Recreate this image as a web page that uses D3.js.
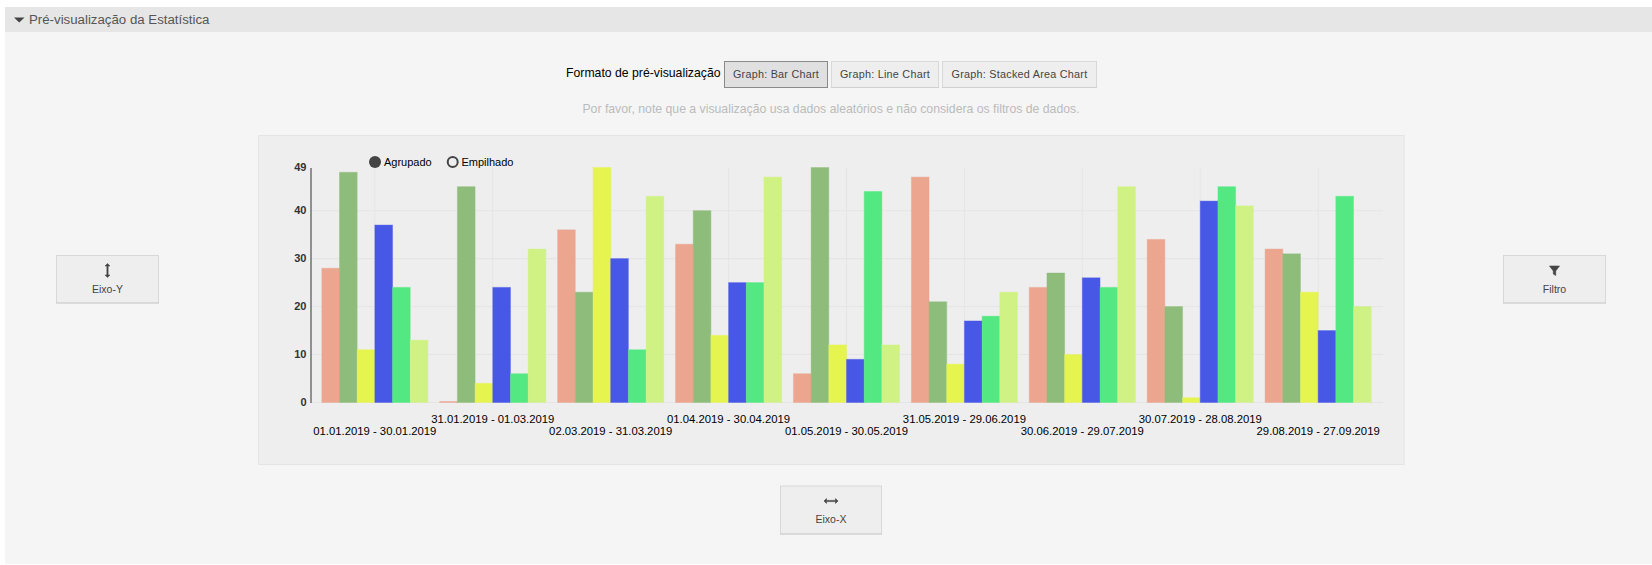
<!DOCTYPE html>
<html>
<head>
<meta charset="utf-8">
<script src="https://cdn.jsdelivr.net/npm/d3@7/dist/d3.min.js"></script>
<style>
  html, body { margin: 0; padding: 0; background: #fff; overflow: hidden; }
  svg { display: block; font-family: "Liberation Sans", Arial, sans-serif; }
  .y-axis text { font-size: 11px; font-weight: bold; fill: #333; }
  .x-axis text { font-size: 11.3px; fill: #000; }
</style>
</head>
<body>
<div id="chart"></div>
<script>
// periods on the x axis
const periods = [
  "01.01.2019 - 30.01.2019", "31.01.2019 - 01.03.2019", "02.03.2019 - 31.03.2019",
  "01.04.2019 - 30.04.2019", "01.05.2019 - 30.05.2019", "31.05.2019 - 29.06.2019",
  "30.06.2019 - 29.07.2019", "30.07.2019 - 28.08.2019", "29.08.2019 - 27.09.2019"
];

// one list per bar colour
const seriesA = [28, 0, 36, 33, 6, 47, 24, 34, 32];
const seriesB = [48, 45, 23, 40, 49, 21, 27, 20, 31];
const seriesC = [11, 4, 49, 14, 12, 8, 10, 1, 23];
const seriesD = [37, 24, 30, 25, 9, 17, 26, 42, 15];
const seriesE = [24, 6, 11, 25, 44, 18, 24, 45, 43];
const seriesF = [13, 32, 43, 47, 12, 23, 45, 41, 20];
const allSeries = [seriesA, seriesB, seriesC, seriesD, seriesE, seriesF];
const seriesColors = ["#eca68f", "#8ebc7b", "#e5f44f", "#4858e6", "#54e882", "#d0f284"];

const yTicks = [0, 10, 20, 30, 40, 49];
const formatButtons = ["Graph: Bar Chart", "Graph: Line Chart", "Graph: Stacked Area Chart"];

const width = 1652;
const height = 565;

const svg = d3.select("#chart").append("svg")
  .attr("width", width)
  .attr("height", height);

// page panel and header
svg.append("rect").attr("x", 5).attr("y", 7).attr("width", width - 5).attr("height", 557).attr("fill", "#f5f5f5");
svg.append("rect").attr("x", 5).attr("y", 7).attr("width", width - 5).attr("height", 25).attr("fill", "#e6e6e6");
svg.append("path").attr("d", "M14,17.5L24.5,17.5L19.2,22.5Z").attr("fill", "#444");
svg.append("text").attr("x", 29).attr("y", 23.5)
  .attr("font-size", 13.25).attr("fill", "#555")
  .text("Pré-visualização da Estatística");

// format row
svg.append("text").attr("x", 566).attr("y", 77)
  .attr("font-size", 12.25).attr("fill", "#000")
  .text("Formato de pré-visualização");

function button(x, y, w, h, active) {
  const g = svg.append("g");
  g.append("rect")
    .attr("x", x + 0.5).attr("y", y + 0.5)
    .attr("width", w - 1).attr("height", h - 1)
    .attr("fill", active ? "#e0e0e0" : "#eeeeee")
    .attr("stroke", active ? "#8a8a8a" : "#d8d8d8");
  g.append("line")
    .attr("x1", x).attr("x2", x + w)
    .attr("y1", y + h - 0.5).attr("y2", y + h - 0.5)
    .attr("stroke", active ? "#8a8a8a" : "#cfcfcf");
  return g;
}

const formatX = [[724, 104], [831, 108], [942, 155]];
formatButtons.forEach((label, i) => {
  const g = button(formatX[i][0], 61, formatX[i][1], 27, i === 0);
  g.append("text")
    .attr("x", formatX[i][0] + formatX[i][1] / 2).attr("y", 77.5)
    .attr("text-anchor", "middle")
    .attr("font-size", 10.8).attr("letter-spacing", 0.25).attr("fill", "#444")
    .text(label);
});

svg.append("text").attr("x", 831).attr("y", 112.5)
  .attr("text-anchor", "middle")
  .attr("font-size", 12.25).attr("fill", "#bbb")
  .text("Por favor, note que a visualização usa dados aleatórios e não considera os filtros de dados.");

// chart panel
svg.append("rect")
  .attr("x", 258.5).attr("y", 135.5)
  .attr("width", 1145.5).attr("height", 329)
  .attr("fill", "#eeeeee").attr("stroke", "#e4e4e4");

// scales
const x0 = d3.scaleBand()
  .domain(periods)
  .range([310, 1383])
  .paddingInner(0.1)
  .paddingOuter(0.1);

const x1 = d3.scaleBand()
  .domain(d3.range(allSeries.length))
  .range([0, x0.bandwidth()]);

const y = d3.scaleLinear()
  .domain([0, 49])
  .range([402.5, 167.5]);

// grid
svg.append("g").selectAll("line")
  .data(periods)
  .join("line")
    .attr("x1", d => x0(d) + x0.bandwidth() / 2)
    .attr("x2", d => x0(d) + x0.bandwidth() / 2)
    .attr("y1", y(49)).attr("y2", y(0))
    .attr("stroke", "#e5e5e5");

svg.append("g").selectAll("line")
  .data(yTicks.filter(d => d < 49))
  .join("line")
    .attr("x1", 310).attr("x2", 1383)
    .attr("y1", d => y(d)).attr("y2", d => y(d))
    .attr("stroke", "#e5e5e5");

// bars
allSeries.forEach((values, s) => {
  svg.append("g")
    .selectAll("rect")
    .data(values)
    .join("rect")
      .attr("x", (d, i) => x0(periods[i]) + x1(s))
      .attr("width", x1.bandwidth())
      .attr("y", d => y(0) - Math.max(y(0) - y(d), 1))
      .attr("height", d => Math.max(y(0) - y(d), 1))
      .attr("fill", seriesColors[s])
      .attr("stroke", seriesColors[s])
      .attr("stroke-opacity", 0.4);
});

// axes
const yAxis = svg.append("g")
  .attr("class", "y-axis")
  .attr("transform", "translate(310.5,-0.8)")
  .call(d3.axisLeft(y).tickValues(yTicks).tickSize(0).tickPadding(4));
yAxis.select(".domain").attr("stroke", "#333").attr("transform", "translate(0,0.8)");

const xAxis = svg.append("g")
  .attr("class", "x-axis")
  .attr("transform", "translate(0,402.5)")
  .call(d3.axisBottom(x0).tickSize(0));
xAxis.select(".domain").remove();
xAxis.selectAll("text")
  .attr("dy", null)
  .attr("y", (d, i) => i % 2 ? 20.5 : 32.5);

// Agrupado / Empilhado switch
svg.append("circle").attr("cx", 375).attr("cy", 162).attr("r", 6).attr("fill", "#444");
svg.append("text").attr("x", 384).attr("y", 166).attr("font-size", 11).attr("fill", "#000").text("Agrupado");
svg.append("circle").attr("cx", 452.7).attr("cy", 162).attr("r", 5).attr("fill", "none").attr("stroke", "#444").attr("stroke-width", 2);
svg.append("text").attr("x", 461.5).attr("y", 166).attr("font-size", 11).attr("fill", "#000").text("Empilhado");

// axis and filter buttons
function iconButton(bx, by, w, h, label, iconPath) {
  const g = button(bx, by, w, h, false);
  const cx = bx + w / 2;
  g.append("path")
    .attr("transform", `translate(${cx},${by + 15.5})`)
    .attr("d", iconPath)
    .attr("fill", "#444")
    .attr("stroke", "#444")
    .attr("stroke-width", 0.6);
  g.append("text")
    .attr("x", cx).attr("y", by + 37.5)
    .attr("text-anchor", "middle")
    .attr("font-size", 10.5).attr("fill", "#444")
    .text(label);
}

const arrowsV = "M-0.6,-4.5L-0.6,4.5L-2.4,4.5L0,7L2.4,4.5L0.6,4.5L0.6,-4.5L2.4,-4.5L0,-7L-2.4,-4.5Z";
const arrowsH = "M-4.5,-0.6L4.5,-0.6L4.5,-2.4L7,0L4.5,2.4L4.5,0.6L-4.5,0.6L-4.5,2.4L-7,0L-4.5,-2.4Z";
const funnel = "M-5,-4.5L5,-4.5L1.2,0.5L1.2,5L-1.2,3.5L-1.2,0.5Z";

iconButton(56, 255, 103, 48.5, "Eixo-Y", arrowsV);
iconButton(1503, 255, 103, 48.5, "Filtro", funnel);
iconButton(780, 485.5, 102, 49, "Eixo-X", arrowsH);
</script>
</body>
</html>
